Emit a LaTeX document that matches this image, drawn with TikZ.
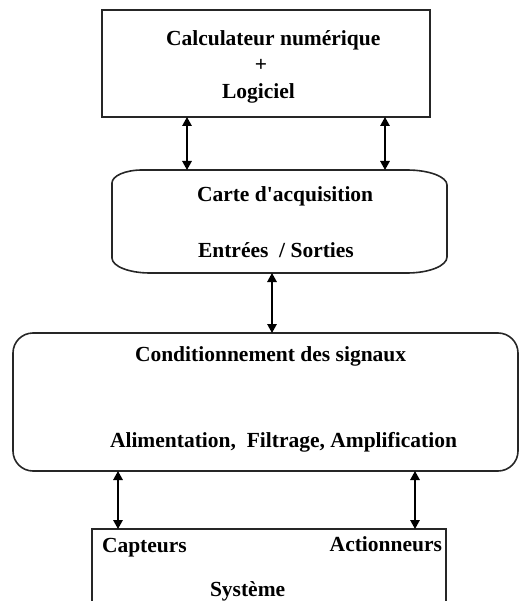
\documentclass[tikz,border=0pt]{standalone}
\usepackage{fontspec}
\setmainfont{Liberation Serif}[Ligatures=TeXOff]
\usetikzlibrary{calc,arrows.meta}
\begin{document}
\begin{tikzpicture}[x=1pt,y=-1pt,
  frame/.style={draw=black!85,line width=1.6pt,inner sep=0pt,outer sep=0pt},
  lbl/.style={inner sep=0pt,outer sep=0pt,font=\fontsize{21.5}{26}\selectfont\bfseries},
  link/.style={line width=1.4pt,{Triangle[length=9pt,width=9.5pt]}-{Triangle[length=9pt,width=9.5pt]}}]
\useasboundingbox (0,0) rectangle (520,601);
\clip (0,0) rectangle (520,601);

% computer + software
\node[frame,minimum width=328pt,minimum height=107pt] (calc) at (266,63.5) {};
\node[lbl,anchor=base west] (calcA) at (166,46) {Calculateur numérique};
\node[lbl,anchor=center] (calcB) at (261,65) {+};
\node[lbl,anchor=base west] (calcC) at (222,99) {Logiciel};

% acquisition board (outline drawn from the node's corners; y axis points down)
\node[inner sep=0pt,outer sep=0pt,minimum width=335pt,minimum height=103pt] (carte) at (279.5,221.5) {};
\draw[draw=black!85,line width=1.6pt]
  ($(carte.north west)+(30,0)$) -- ($(carte.north east)+(-40,0)$)
  arc[start angle=-90,end angle=0,x radius=40,y radius=15]
  -- ($(carte.south east)+(0,-16)$)
  arc[start angle=0,end angle=90,x radius=40,y radius=16]
  -- ($(carte.south west)+(38,0)$)
  arc[start angle=90,end angle=180,x radius=38,y radius=15]
  -- ($(carte.north west)+(0,13)$)
  arc[start angle=180,end angle=270,x radius=30,y radius=13];
\node[lbl,anchor=base west] (carteA) at (197,202) {Carte d'acquisition};
\node[lbl,anchor=base west] (carteB) at (198,258) {Entrées~~/ Sorties};

% signal conditioning
\node[frame,rounded corners=20pt,minimum width=505pt,minimum height=138pt] (cond) at (265.5,402) {};
\node[lbl,anchor=base west] (condA) at (135,361) {Conditionnement des signaux};
\node[lbl,anchor=base west] (condB) at (110,447) {Alimentation,~~Filtrage, Amplification};

% system
\node[frame,minimum width=354pt,minimum height=111pt] (sys) at (269,584.5) {};
\node[lbl,anchor=base west] (sysA) at (102,552) {Capteurs};
\node[lbl,anchor=base east] (sysB) at (442,551) {Actionneurs};
\node[lbl,anchor=base west] (sysC) at (210,596) {Système};

% links
\draw[link] ($(calc.south west)+(85,0)$) -- ($(carte.north west)+(75,0)$);
\draw[link] ($(calc.south west)+(283,0)$) -- ($(carte.north west)+(273,0)$);
\draw[link] ($(carte.south west)+(160,0)$) -- ($(cond.north west)+(259,0)$);
\draw[link] ($(cond.south west)+(105,0)$) -- ($(sys.north west)+(26,0)$);
\draw[link] ($(cond.south west)+(402,0)$) -- ($(sys.north west)+(323,0)$);
\end{tikzpicture}
\end{document}
